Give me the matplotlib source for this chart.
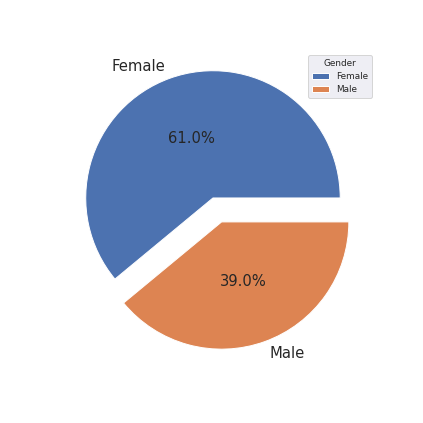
import matplotlib
matplotlib.use("Agg")
import matplotlib.pyplot as plt
import seaborn as sns

sns.set_theme()

labels = ["Female", "Male"]
shares = [61.0, 39.0]
explode = [0, 0.2]

fig = plt.figure(figsize=(6, 6), dpi=70.5)
ax = fig.add_axes([0.1275, 0.156, 0.752, 0.752])
ax.pie(shares, labels=labels, autopct="%1.1f%%", explode=explode, pctdistance=0.5,
       colors=sns.color_palette()[:2], textprops={"fontsize": 15})
ax.legend(title="Gender", loc="upper right", fontsize=9, title_fontsize=9,
          bbox_to_anchor=(372 / 423, 1 - 55 / 423), bbox_transform=fig.transFigure,
          borderaxespad=0)
fig.savefig("out.png")
